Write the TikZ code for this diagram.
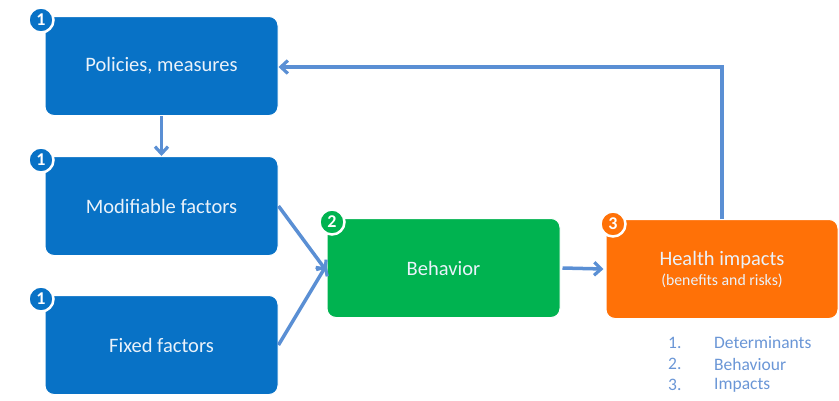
\documentclass[tikz,border=0pt]{standalone}
\usepackage{fontspec}
\setmainfont{Carlito}
\usetikzlibrary{arrows.meta}
\definecolor{boxblue}{HTML}{0872C6}
\definecolor{boxgreen}{HTML}{00B350}
\definecolor{boxorange}{HTML}{FF7107}
\definecolor{arrowblue}{HTML}{5A8FD4}
\definecolor{listblue}{HTML}{6A96D6}
\definecolor{txtlight}{HTML}{EAF2FA}
\tikzset{
  card/.style={draw=white, line width=1pt, rounded corners=9pt, minimum width=233pt, minimum height=99pt, text=txtlight, font=\fontsize{20.5}{23}\selectfont, align=center},
  badge/.style={circle, draw=white, line width=2.5pt, inner sep=0pt, minimum size=25pt, text=white, font=\bfseries\fontsize{18}{18}\selectfont},
  conn/.style={draw=arrowblue, line width=3.5pt, -{Straight Barb[length=7pt,width=13pt,line width=3.2pt]}},
  listtxt/.style={text=listblue, font=\fontsize{17.5}{19}\selectfont, anchor=west, inner sep=0pt},
}
\begin{document}
\begin{tikzpicture}[x=1pt,y=-1pt]
\useasboundingbox (0,0) rectangle (839,400);
\node[card, fill=boxblue] (pol) at (161.5,66) {Policies, measures};
\node[card, fill=boxblue] (mod) at (161.5,206) {Modifiable factors};
\node[card, fill=boxblue] (fix) at (161.5,345) {Fixed factors};
\node[card, fill=boxgreen] (beh) at (443.5,268) {Behavior};
\node[card, fill=boxorange, minimum width=232pt] (hea) at (722,269) {Health impacts\\[-3pt]{\fontsize{15.8}{17}\selectfont (benefits and risks)}};
\node[badge, fill=boxblue] (b1) at (41,20) {1};
\node[badge, fill=boxblue] (b2) at (41,160) {1};
\node[badge, fill=boxblue] (b3) at (41,299) {1};
\node[badge, fill=boxgreen] (b4) at (332,222) {2};
\node[badge, fill=boxorange] (b5) at (613,224) {3};
\coordinate (corner) at (722,67);
\draw[conn] (pol.south) -- (mod.north);
\draw[conn] (mod.east) -- ([yshift=-3pt]beh.west);
\draw[conn] (fix.east) -- ([yshift=3pt]beh.west);
\draw[conn] ([xshift=2pt]beh.east) -- ([xshift=-2pt]hea.west);
\draw[conn, rounded corners=0pt] (hea.north) -- (corner) -- (pol.east|-corner);
\node[listtxt] (n1) at (668,343) {1.};
\node[listtxt] (n2) at (668,364) {2.};
\node[listtxt] (n3) at (668,385) {3.};
\node[listtxt] (l1) at (714,343) {Determinants};
\node[listtxt] (l2) at (714,364) {Behaviour};
\node[listtxt] (l3) at (714,385) {Impacts};
\end{tikzpicture}
\end{document}
